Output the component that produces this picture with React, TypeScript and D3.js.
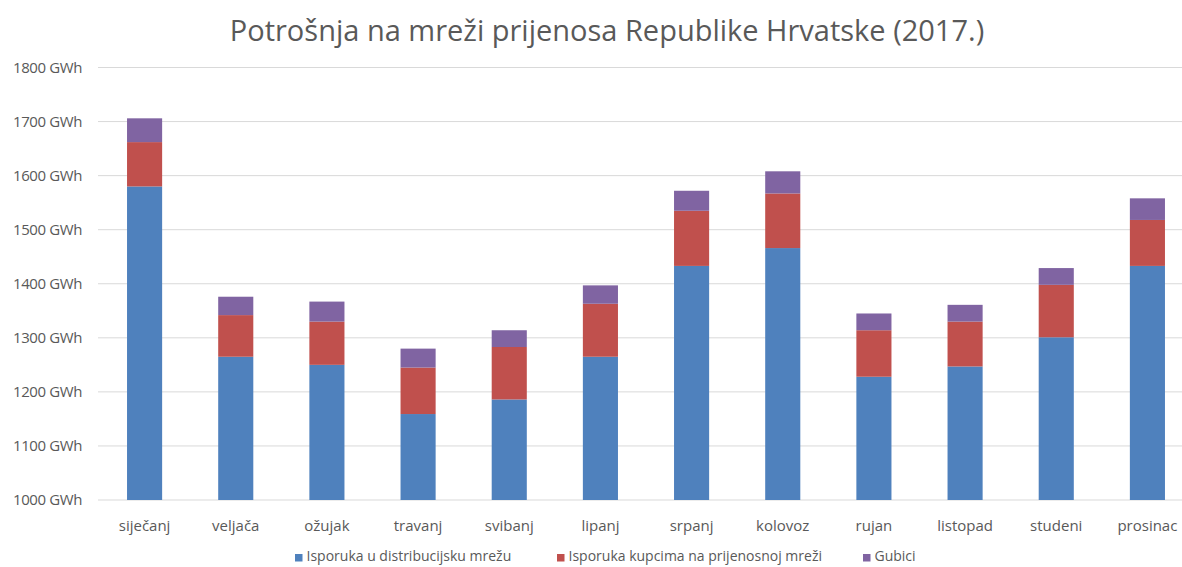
import React from 'react';
import * as d3 from 'd3';

const months = ['siječanj', 'veljača', 'ožujak', 'travanj', 'svibanj', 'lipanj', 'srpanj', 'kolovoz', 'rujan', 'listopad', 'studeni', 'prosinac'];
const distribucija = [1580, 1265, 1250, 1159, 1186, 1265, 1433, 1466, 1228, 1247, 1301, 1433];
const kupci = [82, 77, 80, 86, 97, 98, 102, 101, 86, 83, 97, 85];
const gubici = [44, 34, 37, 35, 31, 34, 37, 41, 31, 31, 31, 40];
const seriesNames = ['Isporuka u distribucijsku mrežu', 'Isporuka kupcima na prijenosnoj mreži', 'Gubici'];
const yTicks = [1000, 1100, 1200, 1300, 1400, 1500, 1600, 1700, 1800];

const colors = ['#4F81BD', '#C0504D', '#8064A2'];
const W = 1182;
const H = 567;
const font = '"Open Sans", sans-serif';

const App = () => {
  const x = d3.scaleBand().domain(months).range([99, 1193]).paddingInner(0.615).paddingOuter(0.3075);
  const y = d3.scaleLinear().domain([1000, 1800]).range([500, 67.5]);

  const rows = months.map((m, i) => ({ m, a: distribucija[i], b: kupci[i], c: gubici[i] }));
  const stack = d3.stack<any>().keys(['a', 'b', 'c'])(rows);

  const legendX = [295, 557, 863];

  return (
    <svg width={W} height={H} style={{ position: 'absolute', left: 0, top: 0, background: '#fff' }} fontFamily={font}>
      <text x={607} y={41} textAnchor="middle" fontSize={29} fill="#595959">
        Potrošnja na mreži prijenosa Republike Hrvatske (2017.)
      </text>
      {yTicks.map(t => (
        <g key={t}>
          <line x1={98} x2={W} y1={y(t)} y2={y(t)} stroke="#D9D9D9" strokeWidth={1} />
          <text x={82} y={y(t)} dy="0.35em" textAnchor="end" fontSize={15} fill="#595959" letterSpacing={-0.4}>
            {t} GWh
          </text>
        </g>
      ))}
      {stack.map((s, si) => (
        <g key={si} fill={colors[si]}>
          {s.map((d: any, i) => {
            const lo = si === 0 ? 1000 : d[0];
            return (
              <rect key={i} x={x(months[i])} width={x.bandwidth()} y={y(d[1])} height={y(lo) - y(d[1])} />
            );
          })}
        </g>
      ))}
      {months.map(m => (
        <text key={m} x={(x(m) as number) + x.bandwidth() / 2} y={531} textAnchor="middle" fontSize={15} fill="#595959">
          {m}
        </text>
      ))}
      {seriesNames.map((n, i) => (
        <g key={n} transform={`translate(${legendX[i]},557)`}>
          <rect x={0} y={-3} width={7.5} height={7.5} fill={colors[i]} />
          <text x={11.5} y={0} dy="0.32em" fontSize={14} fill="#595959">{n}</text>
        </g>
      ))}
    </svg>
  );
};

export default App;
